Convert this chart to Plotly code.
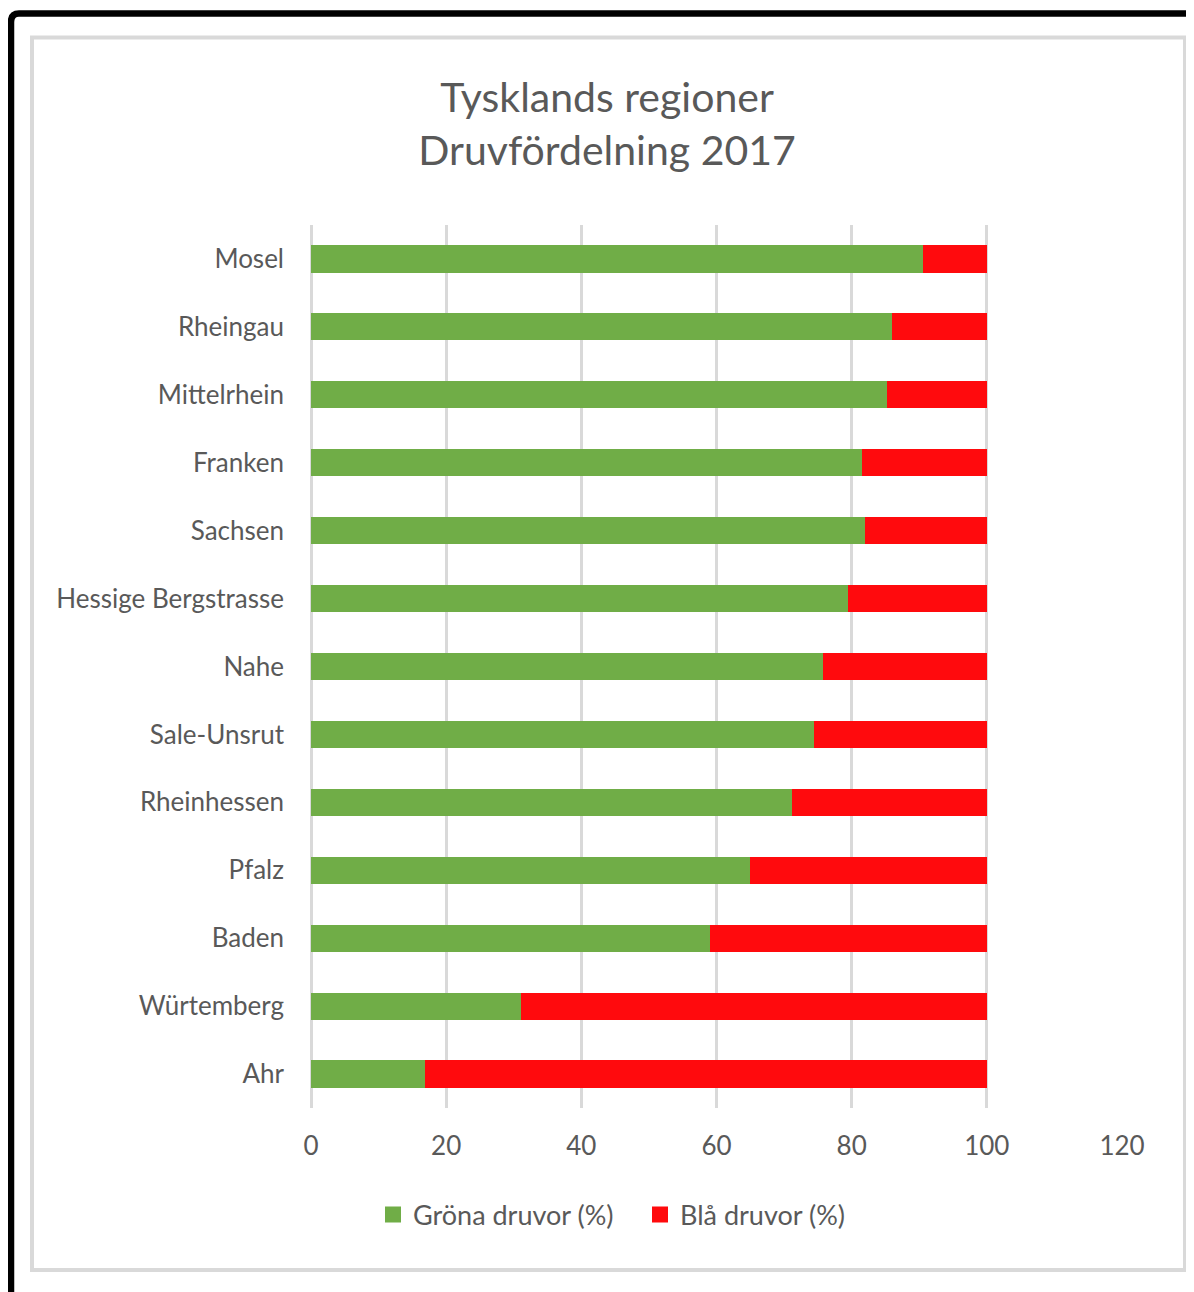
import plotly.graph_objects as go

regions = ["Mosel", "Rheingau", "Mittelrhein", "Franken", "Sachsen", "Hessige Bergstrasse",
           "Nahe", "Sale-Unsrut", "Rheinhessen", "Pfalz", "Baden", "Würtemberg", "Ahr"]
grona = [90.6, 85.9, 85.3, 81.5, 81.9, 79.5, 75.8, 74.4, 71.1, 64.9, 59.1, 31.1, 16.9]
bla = [9.4, 14.1, 14.7, 18.5, 18.1, 20.5, 24.2, 25.6, 28.9, 35.1, 40.9, 68.9, 83.1]
x_ticks = [0, 20, 40, 60, 80, 100, 120]

OFF = 8                      # page body margin
W, H = 1194 - 2 * OFF, 1292 - OFF
# plot area in screen pixels
L, R, T, B = 311, 1122, 225, 1108

def px(x):
    return (x - L) / (R - L)

def py(y):
    return (B - y) / (B - T)

FONT = "Lato"
TXT = "#595959"
GREEN = "#70ad47"
RED = "#ff0a0d"

fig = go.Figure()
fig.add_trace(go.Bar(y=regions, x=grona, orientation="h", name="Gröna druvor (%)",
                     marker=dict(color=GREEN, line=dict(width=0)), showlegend=False))
fig.add_trace(go.Bar(y=regions, x=bla, orientation="h", name="Blå druvor (%)",
                     marker=dict(color=RED, line=dict(width=0)), showlegend=False))
# legend entries
fig.add_trace(go.Scatter(x=[None], y=[None], mode="markers", name="Gröna druvor (%)",
                         marker=dict(symbol="square", size=18, color=GREEN)))
fig.add_trace(go.Scatter(x=[None], y=[None], mode="markers", name="Blå druvor (%)",
                         marker=dict(symbol="square", size=18, color=RED)))

shapes = [
    dict(type="rect", xref="paper", yref="paper",
         x0=px(32), x1=px(1185), y0=py(1270), y1=py(37.5),
         line=dict(color="#d9d9d9", width=4), fillcolor="rgba(0,0,0,0)", layer="below"),
    dict(type="path", xref="paper", yref="paper",
         path=f"M {px(11)} {py(1310)} L {px(11)} {py(22)} Q {px(11)} {py(13.5)} {px(19)} {py(13.5)} L {px(1200)} {py(13.5)}",
         line=dict(color="#000000", width=6.5), layer="above"),
]

fig.update_layout(
    width=W, height=H,
    margin=dict(l=L - OFF, r=W + OFF - R, t=T - OFF, b=H + OFF - B, pad=0),
    paper_bgcolor="white", plot_bgcolor="white",
    barmode="stack", bargap=0.6,
    font=dict(family=FONT, color=TXT, size=26),
    title=dict(text="Tysklands regioner<br>Druvfördelning 2017",
               x=(607 - OFF) / W, xanchor="center", xref="container",
               y=1 - (112 - OFF) / H, yanchor="middle", yref="container",
               font=dict(family=FONT, size=41, color=TXT)),
    showlegend=True,
    legend=dict(orientation="h", x=px(640), xanchor="center", y=py(1215), yanchor="middle",
                font=dict(family=FONT, size=27, color=TXT), traceorder="normal",
                itemwidth=30, entrywidth=222, bgcolor="rgba(0,0,0,0)"),
    xaxis=dict(range=[0, 120], tickvals=x_ticks, ticktext=[str(v) for v in x_ticks],
               showgrid=True, gridcolor="#d9d9d9", gridwidth=3,
               zeroline=True, zerolinecolor="#d9d9d9", zerolinewidth=3,
               showline=False, ticks="", ticklabelstandoff=20,
               tickfont=dict(family=FONT, size=26, color=TXT), fixedrange=True),
    yaxis=dict(categoryorder="array", categoryarray=regions, autorange="reversed",
               showgrid=False, zeroline=False, showline=False, ticks="",
               ticklabelstandoff=26, tickfont=dict(family=FONT, size=26, color=TXT)),
    shapes=shapes,
)

fig.write_html("out.html")
